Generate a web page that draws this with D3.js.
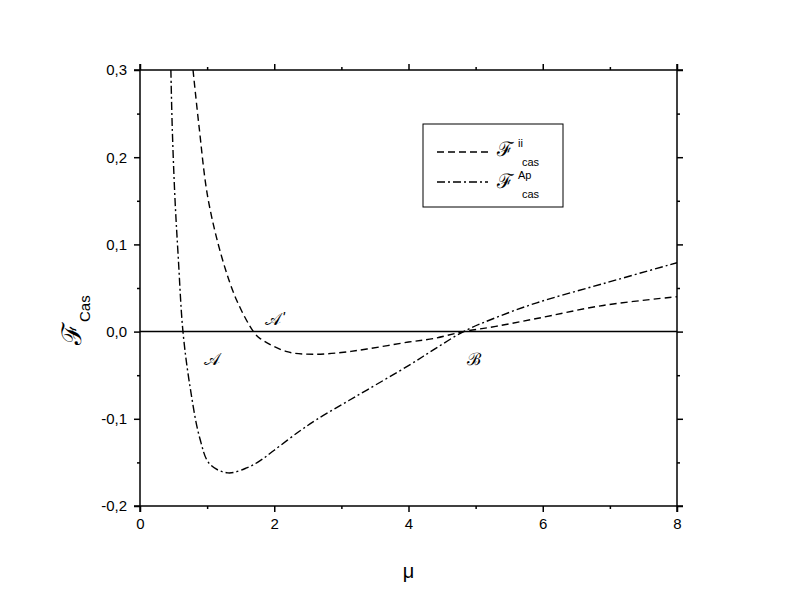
<!DOCTYPE html>
<html><head><meta charset="utf-8">
<script src="https://cdn.jsdelivr.net/npm/d3@7"></script>
<style>
body{margin:0;background:#fff;}
text{font-family:"Liberation Sans",Arial,sans-serif;}
</style></head>
<body><svg id="chart" width="785" height="606"></svg>
<script>
// ---- data ----
const muIi  = [0.79, 0.88, 1.01, 1.22, 1.44, 1.69, 1.79, 2.19, 2.58, 3.0, 3.38, 4.0, 4.37, 4.82, 5.3, 5.91, 6.9, 8.0];
const fIi   = [0.30, 0.235, 0.154, 0.085, 0.036, 0.0, -0.008, -0.023, -0.026, -0.024, -0.020, -0.012, -0.008, 0.0, 0.006, 0.015, 0.030, 0.040];
const muAp  = [0.46, 0.48, 0.52, 0.57, 0.64, 0.745, 0.89, 1.04, 1.31, 1.6, 1.79, 2.0, 2.38, 2.63, 3.0, 3.38, 4.0, 4.37, 4.82, 5.3, 5.91, 6.9, 8.0];
const fAp   = [0.30, 0.235, 0.154, 0.085, 0.0, -0.063, -0.122, -0.152, -0.162, -0.156, -0.148, -0.136, -0.114, -0.101, -0.084, -0.067, -0.039, -0.021, 0.0, 0.016, 0.033, 0.055, 0.079];
const xMajorTicks = [0, 2, 4, 6, 8];
const xMinorTicks = [1, 3, 5, 7];
const yMajorTicks = [-0.2, -0.1, 0.0, 0.1, 0.2, 0.3];
const yTickLabels = ["-0,2", "-0,1", "0,0", "0,1", "0,2", "0,3"];
const yMinorTicks = [-0.15, -0.05, 0.05, 0.15, 0.25];
const annotations = [
  {label: "𝒜", prime: "'", mu: 1.98, f: 0.008},
  {label: "𝒜", prime: "", mu: 1.08, f: -0.038},
  {label: "ℬ", prime: "", mu: 4.98, f: -0.038}
];

// ---- layout ----
const L = 140, R = 677, T = 70, B = 506;
const svg = d3.select("#chart");
const x = d3.scaleLinear().domain([0, 8]).range([L, R]);
const y = d3.scaleLinear().domain([-0.2, 0.3]).range([B, T]);

svg.append("defs").append("clipPath").attr("id", "clip")
  .append("rect").attr("x", L).attr("y", T).attr("width", R - L).attr("height", B - T);

function styleAxis(g) {
  g.select(".domain").remove();
  g.selectAll("line").attr("stroke", "#000").attr("stroke-width", 1.5);
  g.selectAll("text").attr("font-size", 15).attr("fill", "#000");
}
// bottom
svg.append("g").attr("transform", `translate(0,${B})`)
  .call(d3.axisBottom(x).tickValues(xMajorTicks).tickSize(6).tickPadding(6).tickFormat(d3.format("d")))
  .call(styleAxis);
svg.append("g").attr("transform", `translate(0,${B})`)
  .call(d3.axisBottom(x).tickValues(xMinorTicks).tickSize(3).tickFormat(""))
  .call(styleAxis);
// top
svg.append("g").attr("transform", `translate(0,${T})`)
  .call(d3.axisTop(x).tickValues(xMajorTicks).tickSize(6).tickFormat(""))
  .call(styleAxis);
svg.append("g").attr("transform", `translate(0,${T})`)
  .call(d3.axisTop(x).tickValues(xMinorTicks).tickSize(3).tickFormat(""))
  .call(styleAxis);
// left
svg.append("g").attr("transform", `translate(${L},0)`)
  .call(d3.axisLeft(y).tickValues(yMajorTicks).tickSize(6).tickPadding(7)
    .tickFormat((d, i) => yTickLabels[i]))
  .call(styleAxis);
svg.append("g").attr("transform", `translate(${L},0)`)
  .call(d3.axisLeft(y).tickValues(yMinorTicks).tickSize(3).tickFormat(""))
  .call(styleAxis);
// right
svg.append("g").attr("transform", `translate(${R},0)`)
  .call(d3.axisRight(y).tickValues(yMajorTicks).tickSize(6).tickFormat(""))
  .call(styleAxis);
svg.append("g").attr("transform", `translate(${R},0)`)
  .call(d3.axisRight(y).tickValues(yMinorTicks).tickSize(3).tickFormat(""))
  .call(styleAxis);

// frame lines (slightly extended, Origin style)
const ext = 6;
const frame = svg.append("g").attr("stroke", "#000").attr("stroke-width", 1.5);
frame.append("line").attr("x1", L - ext).attr("x2", R + ext).attr("y1", B).attr("y2", B);
frame.append("line").attr("x1", L - ext).attr("x2", R + ext).attr("y1", T).attr("y2", T);
frame.append("line").attr("x1", L).attr("x2", L).attr("y1", T - ext).attr("y2", B + ext);
frame.append("line").attr("x1", R).attr("x2", R).attr("y1", T - ext).attr("y2", B + ext);

// zero line
svg.append("line").attr("x1", x(0)).attr("x2", x(8)).attr("y1", y(0)).attr("y2", y(0))
  .attr("stroke", "#000").attr("stroke-width", 1.5);

// curves
const line = d3.line().x(d => x(d[0])).y(d => y(d[1])).curve(d3.curveCatmullRom.alpha(0.5));
const plot = svg.append("g").attr("clip-path", "url(#clip)");
plot.append("path").datum(d3.zip(muIi, fIi)).attr("d", line)
  .attr("fill", "none").attr("stroke", "#000").attr("stroke-width", 1.4)
  .attr("stroke-dasharray", "7,4");
plot.append("path").datum(d3.zip(muAp, fAp)).attr("d", line)
  .attr("fill", "none").attr("stroke", "#000").attr("stroke-width", 1.4)
  .attr("stroke-dasharray", "8,3,2,3");

// annotations
const annG = svg.append("g").attr("fill", "#000");
annG.selectAll("text.lab").data(annotations).join("text").attr("class", "lab")
  .attr("x", d => x(d.mu)).attr("y", d => y(d.f))
  .attr("font-family", "'DejaVu Sans',sans-serif")
  .attr("font-size", 17).attr("text-anchor", "middle")
  .text(d => d.label);
annG.selectAll("text.pr").data(annotations.filter(d => d.prime)).join("text").attr("class", "pr")
  .attr("x", d => x(d.mu) + 9).attr("y", d => y(d.f) - 3)
  .attr("font-family", "'DejaVu Sans',sans-serif").attr("font-style", "italic")
  .attr("font-size", 15).text(d => d.prime);

// legend
const lg = svg.append("g");
lg.append("rect").attr("x", 423).attr("y", 124).attr("width", 140).attr("height", 83)
  .attr("fill", "#fff").attr("stroke", "#000").attr("stroke-width", 1);
lg.append("line").attr("x1", 437).attr("x2", 488).attr("y1", 152).attr("y2", 152)
  .attr("stroke", "#000").attr("stroke-width", 1.4).attr("stroke-dasharray", "7,4");
lg.append("line").attr("x1", 437).attr("x2", 488).attr("y1", 182).attr("y2", 182)
  .attr("stroke", "#000").attr("stroke-width", 1.4).attr("stroke-dasharray", "8,3,2,3");
function scriptF(g, xx, yy, sup, sub) {
  g.append("text").attr("x", xx).attr("y", yy).attr("font-family", "'DejaVu Sans',sans-serif")
    .attr("font-size", 20).text("ℱ");
  g.append("text").attr("x", xx + 21).attr("y", yy - 9).attr("font-size", 11).text(sup);
  g.append("text").attr("x", xx + 25).attr("y", yy + 10).attr("font-size", 11).text(sub);
}
scriptF(lg, 497, 156, "ii", "cas");
scriptF(lg, 497, 188, "Ap", "cas");

// axis titles
svg.append("text").attr("x", x(4)).attr("y", 578).attr("text-anchor", "middle")
  .attr("font-size", 20).text("μ");
const yl = svg.append("g").attr("transform", "translate(81,345) rotate(-90)");
yl.append("text").attr("x", 0).attr("y", 0).attr("font-family", "'DejaVu Sans',sans-serif")
  .attr("font-size", 27).text("ℱ");
yl.append("text").attr("x", 23).attr("y", 9).attr("font-size", 15).text("Cas");
</script></body></html>
